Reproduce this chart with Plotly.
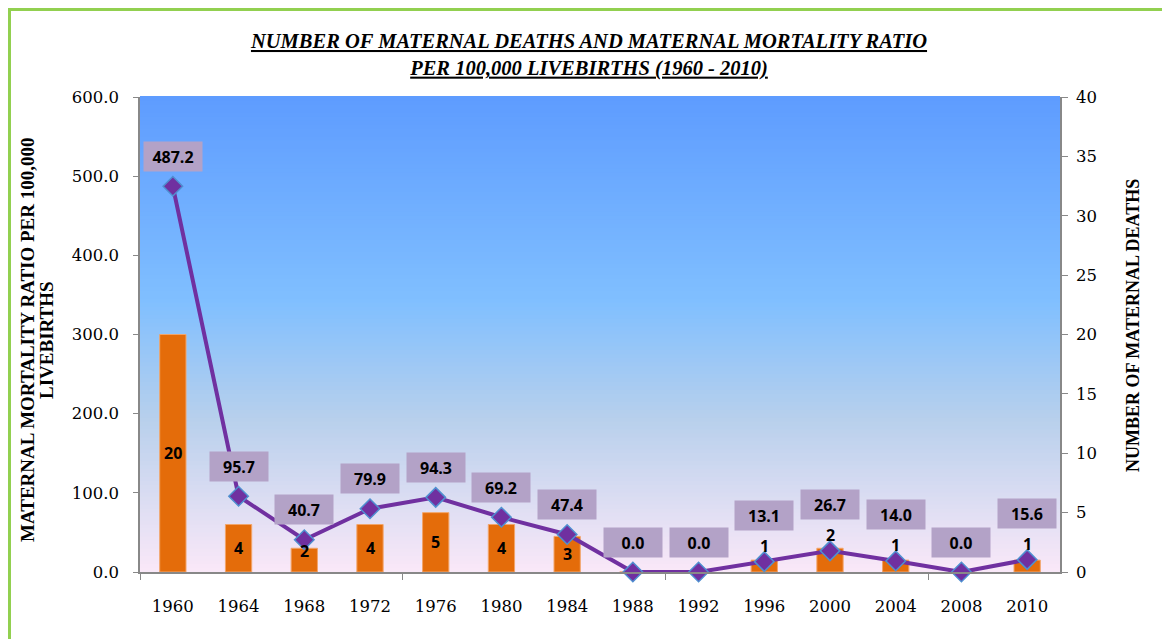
import plotly.graph_objects as go

years = ["1960", "1964", "1968", "1972", "1976", "1980", "1984", "1988", "1992", "1996", "2000", "2004", "2008", "2010"]
deaths = [20, 4, 2, 4, 5, 4, 3, 0, 0, 1, 2, 1, 0, 1]
mmr = [487.2, 95.7, 40.7, 79.9, 94.3, 69.2, 47.4, 0.0, 0.0, 13.1, 26.7, 14.0, 0.0, 15.6]

title_lines = ["NUMBER OF MATERNAL DEATHS AND MATERNAL MORTALITY RATIO",
               "PER 100,000 LIVEBIRTHS (1960 - 2010)"]
left_title_lines = ["MATERNAL MORTALITY RATIO PER 100,000", "LIVEBIRTHS"]
right_title = "NUMBER OF MATERNAL DEATHS"

xs = list(range(len(years)))

# figure geometry (page has an 8px body margin)
OFF = 8
W, H = 1162, 631
L, R, T, B = 132, 110, 89, 67
PW, PH = W - L - R, H - T - B

def px_x(page_x):
    return (page_x - OFF - L) / PW

def px_y(page_y):
    return (H - B - (page_y - OFF)) / PH

fig = go.Figure()

# bars on primary axis (right side, 0-40)
fig.add_trace(go.Bar(
    x=xs, y=deaths, yaxis="y",
    width=0.4,
    marker=dict(color="#E46C0A", line=dict(color="#F2A56A", width=1)),
    showlegend=False,
))

# line on secondary axis (left side, 0-600)
fig.add_trace(go.Scatter(
    x=xs, y=mmr, yaxis="y2", mode="lines+markers",
    line=dict(color="#7030A0", width=4),
    marker=dict(symbol="diamond", size=15, color="#7030A0", line=dict(color="#4F8FD0", width=1.5)),
    cliponaxis=False,
    showlegend=False,
))

ratio = 600 / 40
label_font = dict(family="Open Sans", size=16, color="black", weight="bold")
annotations = []
for xi, d, v in zip(xs, deaths, mmr):
    box_shift = 30
    if d >= 3:
        annotations.append(dict(x=xi, y=d / 2, xref="x", yref="y", text=str(d),
                                showarrow=False, font=label_font))
    elif d > 0:
        if v / ratio > d + 0.5:
            annotations.append(dict(x=xi, y=d, xref="x", yref="y", text=str(d),
                                    showarrow=False, yshift=-3, font=label_font))
        else:
            annotations.append(dict(x=xi, y=v, xref="x", yref="y2", text=str(d),
                                    showarrow=False, yshift=16, font=label_font))
            box_shift = 46
    annotations.append(dict(
        x=xi, y=v, xref="x", yref="y2", text="%.1f" % v, showarrow=False,
        yshift=box_shift, bgcolor="#B3A2C7", borderpad=4, width=50, height=21,
        font=label_font,
    ))

# axis titles
ltf = dict(family="Liberation Serif", size=19, color="black", weight="bold")
for txt, xpos in zip(left_title_lines, [27, 46]):
    annotations.append(dict(text=txt, xref="paper", yref="paper", x=px_x(xpos), y=px_y(340),
                            xanchor="center", yanchor="middle", textangle=-90,
                            showarrow=False, font=ltf))
annotations.append(dict(text=right_title, xref="paper", yref="paper", x=px_x(1133), y=px_y(326),
                        xanchor="center", yanchor="middle", textangle=-90, showarrow=False,
                        font=dict(family="Liberation Serif", size=18, color="black", weight="bold")))

# gradient background via thin stacked shapes
stops = [(0.0, (250, 232, 248)), (0.11, (228, 224, 244)), (0.32, (184, 208, 236)),
         (0.57, (128, 191, 255)), (1.0, (94, 156, 255))]

def col(t):
    for (t0, c0), (t1, c1) in zip(stops[:-1], stops[1:]):
        if t0 <= t <= t1:
            f = (t - t0) / (t1 - t0)
            return "rgb(%d,%d,%d)" % tuple(round(a + (b - a) * f) for a, b in zip(c0, c1))
    return "rgb(%d,%d,%d)" % stops[-1][1]

N = 120
shapes = []
for i in range(N):
    shapes.append(dict(type="rect", xref="paper", yref="paper", x0=0, x1=1,
                       y0=i / N, y1=(i + 1) / N + 0.002, layer="below",
                       line=dict(width=0), fillcolor=col((i + 0.5) / N)))
# outer green border
shapes.append(dict(type="rect", xref="paper", yref="paper",
                   x0=(1.5 - L) / PW, x1=(W - 2 - L) / PW,
                   y0=(H - B - H - 60) / PH, y1=(H - B - 1.5) / PH,
                   line=dict(color="#92D050", width=3), fillcolor="rgba(0,0,0,0)", layer="below"))

axis_font = dict(family="DejaVu Serif", size=16.5, color="black")

title_html = "<br>".join("<b><i><u>%s</u></i></b>" % t for t in title_lines)

fig.update_layout(
    width=W, height=H,
    margin=dict(l=L, r=R, t=T, b=B, autoexpand=False),
    paper_bgcolor="white", plot_bgcolor="rgba(0,0,0,0)",
    title=dict(text=title_html,
               x=581 / W, xanchor="center", xref="container",
               y=1 - 40 / H, yanchor="top", yref="container",
               font=dict(family="Liberation Serif", size=20.5, color="black")),
    xaxis=dict(range=[-0.5, len(years) - 0.5], tickmode="array", tickvals=xs, ticktext=years,
               ticks="", showgrid=False, zeroline=False, automargin=False,
               showline=True, linecolor="#888888", linewidth=1.5,
               tickfont=axis_font, ticklabelstandoff=18,
               minor=dict(tickmode="array", tickvals=[-0.5, 3.5, 7.5, 11.5], ticks="outside",
                          ticklen=6, tickcolor="#888888", showgrid=False)),
    yaxis=dict(side="right", range=[0, 40], dtick=5, tick0=0, ticks="outside", ticklen=6,
               tickcolor="#888888", showgrid=False, zeroline=False, automargin=False,
               showline=True, linecolor="#888888", linewidth=1.5,
               tickfont=axis_font, ticklabelstandoff=5),
    yaxis2=dict(side="left", overlaying="y", range=[0, 600], dtick=100, tick0=0, tickformat=".1f",
                ticks="outside", ticklen=5, tickcolor="#888888", showgrid=False, zeroline=False,
                automargin=False,
                showline=True, linecolor="#888888", linewidth=1.5,
                tickfont=axis_font, ticklabelstandoff=11),
    annotations=annotations,
    shapes=shapes,
)

fig.write_html("out.html")
